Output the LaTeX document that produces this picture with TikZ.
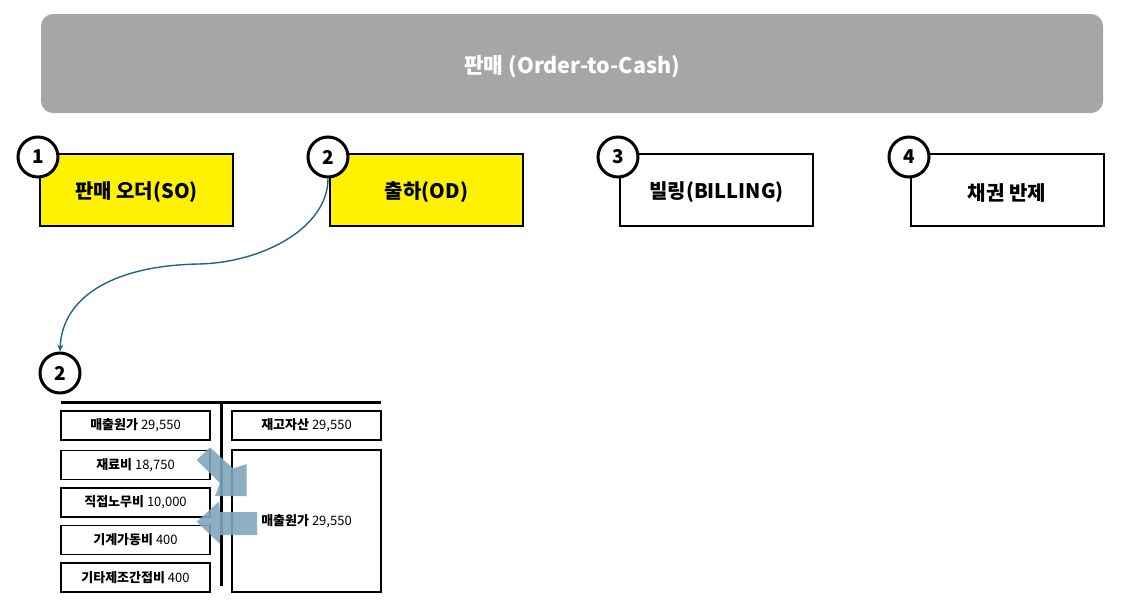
\documentclass[tikz,border=0pt]{standalone}
\usepackage{fontspec}
\setmainfont{Noto Sans CJK KR}
\usetikzlibrary{arrows.meta}
\definecolor{bannergray}{HTML}{A6A6A6}
\definecolor{curveblue}{HTML}{1F6485}
\definecolor{arrowblue}{HTML}{7FA6BE}
\newcommand{\lowered}[2]{\raisebox{-#1}[\height][\depth]{#2}}
\tikzset{
  stepbox/.style={draw=black, line width=2pt, minimum width=193pt, minimum height=72pt, inner sep=0pt,
    font=\fontsize{20}{24}\selectfont\bfseries},
  numcircle/.style={circle, draw=black, line width=3pt, fill=white, minimum size=40pt, inner sep=0pt,
    font=\fontsize{19}{22}\selectfont\bfseries},
  acctbox/.style={draw=black, line width=1.6pt, minimum width=149pt, inner sep=0pt,
    font=\fontsize{13}{16}\selectfont},
  tline/.style={line width=3pt, black},
  flowarrow/.style={fill=arrowblue, draw=none, opacity=0.9},
  curve/.style={draw=curveblue, line width=1.4pt, -{Stealth[length=7pt,width=6pt]}}
}
\begin{document}
\begin{tikzpicture}[x=1pt,y=-1pt]
\useasboundingbox (0,0) rectangle (1125,611);
% banner
\node[fill=bannergray, rounded corners=12pt, minimum width=1062pt, minimum height=99pt, inner sep=0pt,
  text=white, font=\fontsize{21.5}{24}\selectfont\bfseries] (banner) at (572,63.5) {\lowered{3.5pt}{판매 (Order-to-Cash)}};
% step boxes
\node[stepbox, fill=yellow] (s1) at (136.5,190) {\lowered{2.5pt}{판매 오더(SO)}};
\node[stepbox, fill=yellow] (s2) at (426.5,190) {\lowered{2.5pt}{출하(OD)}};
\node[stepbox, fill=white] (s3) at (716.5,190) {\lowered{2.5pt}{빌링(BILLING)}};
\node[stepbox, fill=white] (s4) at (1007,190) {\lowered{2.5pt}{채권 반제}};
% number circles
\node[numcircle] (c1) at (38,157) {1};
\node[numcircle] (c2) at (328,157) {2};
\node[numcircle] (c3) at (618,157) {3};
\node[numcircle] (c4) at (909,157) {4};
\node[numcircle] (c5) at (60,373) {2};
% curve
\draw[curve] (c2.south) .. controls (328,228) and (262,263) .. (198,264)
  .. controls (108,266) and (62,300) .. (c5.north);
% T account
\coordinate (tl) at (61,402);
\coordinate (tr) at (381,402);
\coordinate (tm) at (221,402);
\coordinate (tb) at (221,586);
\draw[tline] (tl) -- (tr);
\draw[tline] (tm) -- (tb);
% left boxes
\node[acctbox, minimum height=29pt] (l1) at (135.5,425.5) {\textbf{매출원가} 29,550};
\node[acctbox, minimum height=29pt] (l2) at (135.5,465) {\textbf{재료비} 18,750};
\node[acctbox, minimum height=29pt] (l3) at (135.5,502.5) {\textbf{직접노무비} 10,000};
\node[acctbox, minimum height=29pt] (l4) at (135.5,540) {\textbf{기계가동비} 400};
\node[acctbox, minimum height=29pt] (l5) at (135.5,577.5) {\textbf{기타제조간접비} 400};
% right boxes
\node[acctbox, minimum height=29pt] (r1) at (306.5,425.5) {\textbf{재고자산} 29,550};
\node[acctbox, minimum height=142pt] (r2) at (306.5,521) {\textbf{매출원가} 29,550};
% flow arrows
\fill[flowarrow] (196.7,460) -- (210,447.3) -- (233,468.5) -- (246.7,464) -- (246.7,496) -- (215,496) -- (220,483) -- cycle;
\fill[flowarrow] (257,512) -- (220,512) -- (219,501.5) -- (196.7,521.7) -- (220,544) -- (220,535) -- (257,535) -- cycle;
\end{tikzpicture}
\end{document}
